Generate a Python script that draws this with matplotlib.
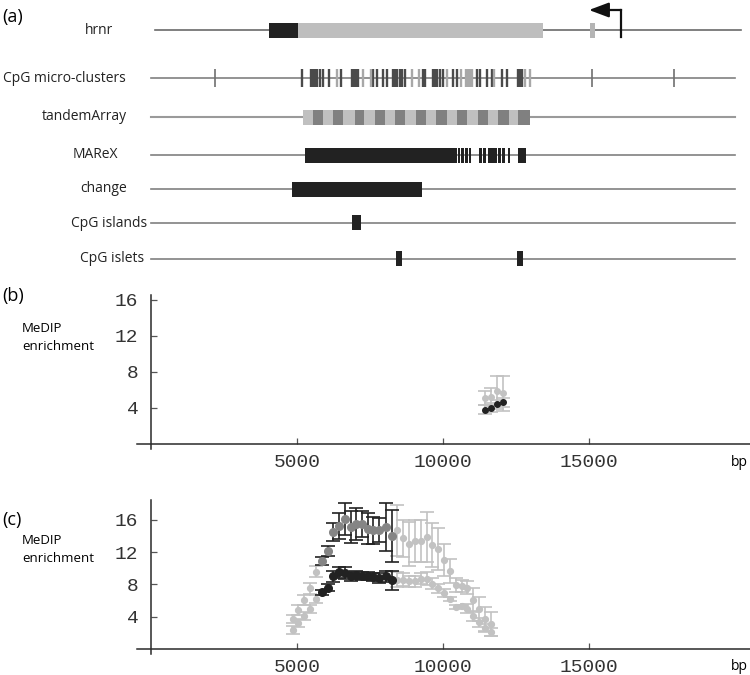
import matplotlib
matplotlib.use("Agg")
import matplotlib.pyplot as plt
import numpy as np

# ---- panel (a): annotation tracks, positions in bp ----
track_names = ["hrnr", "CpG micro-clusters", "tandemArray", "MAReX",
               "change", "CpG islands", "CpG islets"]
region = [0, 20000]
hrnr_line = [150, 20200]
hrnr_dark_exon = [4040, 5035]
hrnr_grey_exon = [5035, 13425]
hrnr_small_exon = [15035, 15205]
hrnr_tss = 16100
hrnr_tss_tip = 15000

micro_dark = [5182, 5480, 5549, 5617, 5686, 5788, 5881, 6107, 6508, 6884, 6953,
              7021, 7090, 7614, 7730, 7956, 8073, 8289, 8357, 8426, 8528, 8597,
              8700, 9326, 9385, 9659, 9727, 9796, 9898, 10011, 10333, 10470,
              11176, 11268, 11497, 11669, 12011, 12183, 12570, 12638, 12707]
micro_light = [6381, 7251, 7535, 8929, 9189, 10148, 10607, 10789, 10857,
               10926, 10994, 11748, 12810, 12981]
micro_single = [2192, 15104, 17913]

tandem_span = [5206, 12981]
tandem_units = [(5549, 5891), (6234, 6576), (6987, 7295), (7672, 8015),
                (8357, 8700), (9076, 9419), (9761, 10138), (10481, 10823),
                (11199, 11542), (11885, 12261), (12570, 12981)]

marex = [(5275, 10481), (10515, 10566), (10618, 10703), (10755, 10840),
         (10892, 10960), (11244, 11327), (11381, 11474), (11532, 11840),
         (11895, 11988), (12032, 12124), (12237, 12296), (12580, 12844)]
change = [(4829, 9282)]
cpg_islands = [(6884, 7192)]
cpg_islets = [(8391, 8597), (12536, 12741)]

# ---- panel (b) MeDIP enrichment ----
b_pos = [11440, 11640, 11850, 12040]
b_upper = [5.1, 5.2, 5.9, 5.6]
b_upper_err = [0.75, 1.0, 1.6, 1.9]
b_lower = [3.8, 4.0, 4.4, 4.6]
b_lower_err = [0.5, 0.5, 0.5, 0.5]

# ---- panel (c) MeDIP enrichment ----
c_pos = [4850, 5050, 5240, 5445, 5650, 5845, 6050, 6245, 6450, 6645, 6840,
         7020, 7225, 7420, 7615, 7810, 8050, 8245, 8435, 8645, 8840, 9045,
         9240, 9445, 9635, 9840, 10040, 10240, 10435, 10640, 10835, 11040,
         11235, 11440, 11635]
c_upper = [3.7, 4.8, 6.1, 7.5, 9.6, 10.9, 12.1, 14.5, 15.2, 16.1, 15.1, 15.5,
           15.5, 14.9, 14.7, 14.7, 15.1, 14.0, 14.7, 13.7, 13.0, 13.4, 13.4,
           13.9, 12.9, 12.4, 11.0, 9.7, 7.9, 7.8, 7.6, 6.1, 5.0, 3.7, 3.1]
c_upper_err = [0.5, 0.6, 0.6, 0.7, 0.7, 0.5, 0.6, 1.1, 1.6, 2.0, 2.0, 2.0,
               1.6, 1.9, 1.7, 1.5, 3.0, 3.2, 3.2, 2.3, 2.7, 2.6, 2.6, 3.1,
               2.7, 2.6, 2.0, 1.5, 0.9, 0.8, 0.8, 1.5, 1.5, 1.5, 1.5]
c_lower = [2.35, 3.2, 4.1, 5.0, 6.2, 7.0, 7.6, 9.0, 9.5, 9.4, 9.0, 9.2, 9.1,
           9.0, 8.9, 8.8, 9.0, 8.5, 8.6, 8.6, 8.4, 8.4, 8.7, 8.7, 8.1, 7.5,
           6.9, 6.2, 5.2, 5.3, 5.0, 4.1, 3.3, 2.6, 2.1]
c_lower_err = [0.5, 0.5, 0.5, 0.5, 0.5, 0.3, 0.4, 0.7, 0.7, 0.7, 0.6, 0.5,
               0.5, 0.5, 0.5, 0.6, 0.7, 1.2, 0.9, 0.8, 0.7, 0.7, 0.7, 0.8,
               0.7, 0.6, 0.5, 0.3, 0.2, 0.2, 0.6, 0.6, 0.6, 0.5, 0.5]
changed_region = [5800, 8300]

y_ticks = [4, 8, 12, 16]
x_ticks = [5000, 10000, 15000]

# ---- layout (pixels of a 750 x 675 canvas) ----
W, H = 750, 675
px_per_bp = 146 / 5000.0
x0_px = 151
xlim_full = (-x0_px / px_per_bp, (W - x0_px) / px_per_bp)
xlim_data = ((137 - x0_px) / px_per_bp, (W - x0_px) / px_per_bp)

BLACK = "#222222"
LINE = "#808080"
LIGHT = "#c2c2c2"
MID = "#858585"
sans = ["Open Sans", "DejaVu Sans"]
mono = ["Liberation Mono", "DejaVu Sans Mono"]

fig = plt.figure(figsize=(W / 100, H / 100), dpi=100)


def fx(px):
    return px / W


def fy(py):
    return 1 - py / H


# panel (a)
ax = fig.add_axes([0, fy(280), 1, 280 / H])
ax.set_xlim(xlim_full)
ax.set_ylim(280, 0)
ax.axis("off")

track_y = [30, 78, 117, 155, 189, 223, 259]
label_x = [99, 64, 84, 95, 104, 109, 112]
box_h = 15

for name, ty, lx in zip(track_names, track_y, label_x):
    fig.text(fx(lx), fy(ty), name, ha="center", va="center",
             fontsize=10, family=sans, color="#222222")


def boxes(segs, ty, color, h=box_h):
    for a, b in segs:
        ax.add_patch(plt.Rectangle((a, ty - h / 2), b - a, h, color=color,
                                   lw=0, zorder=3))


# hrnr
ty = track_y[0]
ax.plot(hrnr_line, [ty, ty], color="#6a6a6a", lw=1.2, zorder=1)
boxes([hrnr_dark_exon], ty, BLACK)
boxes([hrnr_grey_exon], ty, "#bebebe")
boxes([hrnr_small_exon], ty, "#b5b5b5")
ax.plot([hrnr_tss, hrnr_tss], [ty + 7, 10], color="#111111", lw=1.6, zorder=4)
ax.annotate("", xy=(hrnr_tss_tip, 10), xytext=(hrnr_tss, 10),
            arrowprops=dict(arrowstyle="-|>,head_length=1.2,head_width=0.45",
                            color="#111111", lw=1.6, shrinkA=0, shrinkB=0))

# micro-clusters
ty = track_y[1]
ax.plot(region, [ty, ty], color=LINE, lw=1.2, zorder=1)
ax.vlines(micro_dark, ty - 9, ty + 9, color="#4a4a4a", lw=1.7, zorder=3)
ax.vlines(micro_light, ty - 9, ty + 9, color="#a8a8a8", lw=1.7, zorder=3)
ax.vlines(micro_single, ty - 9, ty + 9, color="#707070", lw=1.2, zorder=3)

# tandemArray
ty = track_y[2]
ax.plot(region, [ty, ty], color="#9a9a9a", lw=1.5, zorder=1)
boxes([tandem_span], ty, "#c0c0c0")
boxes(tandem_units, ty, "#808080")

# other tracks
for segs, ty in zip([marex, change, cpg_islands, cpg_islets], track_y[3:]):
    ax.plot(region, [ty, ty], color=LINE, lw=1.2, zorder=1)
    boxes(segs, ty, BLACK)

fig.text(fx(2), fy(17), "(a)", fontsize=13, family=sans, va="center")
fig.text(fx(2), fy(296), "(b)", fontsize=13, family=sans, va="center")
fig.text(fx(2), fy(520), "(c)", fontsize=13, family=sans, va="center")


def style_axes(a, top_px, axis_px, ymax):
    bottom_px = axis_px + 5
    ppu = (axis_px - top_px) / ymax
    a.set_position([fx(137), fy(bottom_px), 1 - fx(137),
                    (bottom_px - top_px) / H])
    a.set_xlim(xlim_data)
    a.set_ylim(-5 / ppu, ymax)
    for s in ["top", "right"]:
        a.spines[s].set_visible(False)
    a.spines["bottom"].set_position(("data", 0))
    a.spines["left"].set_position(("data", 0))
    for s in ["bottom", "left"]:
        a.spines[s].set_color("#2a2a2a")
        a.spines[s].set_linewidth(1.1)
    a.set_yticks(y_ticks)
    a.set_xticks(x_ticks)
    a.tick_params(axis="both", direction="in", length=4, width=0.9,
                  color="#555555", labelsize=14)
    a.tick_params(axis="y", pad=9)
    a.tick_params(axis="x", pad=7)
    for t in a.get_xticklabels() + a.get_yticklabels():
        t.set_family(mono)
        t.set_color("#333333")
    a.patch.set_alpha(0)
    fig.text(fx(731), fy(axis_px + 18), "bp", fontsize=10, family=sans,
             va="center")


def errs(a, x, y, e, color, ecolor, ms):
    a.errorbar(x, y, yerr=e, fmt="o", ms=ms, color=color, mfc=color,
               mec=color, ecolor=ecolor, elinewidth=1.2, capsize=5,
               capthick=1.2, zorder=3)


# panel (b)
axb = fig.add_axes([0, 0, 1, 1])
style_axes(axb, 295, 444, 16.5)
errs(axb, b_pos, b_upper, b_upper_err, LIGHT, LIGHT, 4)
errs(axb, b_pos, b_lower, b_lower_err, BLACK, LIGHT, 4)
fig.text(fx(22), fy(338), "MeDIP\nenrichment", fontsize=9.5, family=sans,
         va="center", ha="left", linespacing=1.5)

# panel (c)
axc = fig.add_axes([0, 0, 1, 1])
style_axes(axc, 500, 649, 18.46)
pos = np.array(c_pos)
inside = (pos >= changed_region[0]) & (pos <= changed_region[1])
up, upe = np.array(c_upper), np.array(c_upper_err)
lo, loe = np.array(c_lower), np.array(c_lower_err)
errs(axc, pos[~inside], up[~inside], upe[~inside], LIGHT, LIGHT, 4.2)
errs(axc, pos[~inside], lo[~inside], loe[~inside], LIGHT, LIGHT, 4.2)
errs(axc, pos[inside], up[inside], upe[inside], MID, "#222222", 5.5)
errs(axc, pos[inside], lo[inside], loe[inside], BLACK, "#222222", 5.5)
fig.text(fx(22), fy(550), "MeDIP\nenrichment", fontsize=9.5, family=sans,
         va="center", ha="left", linespacing=1.5)

fig.savefig("out.png", dpi=100)
